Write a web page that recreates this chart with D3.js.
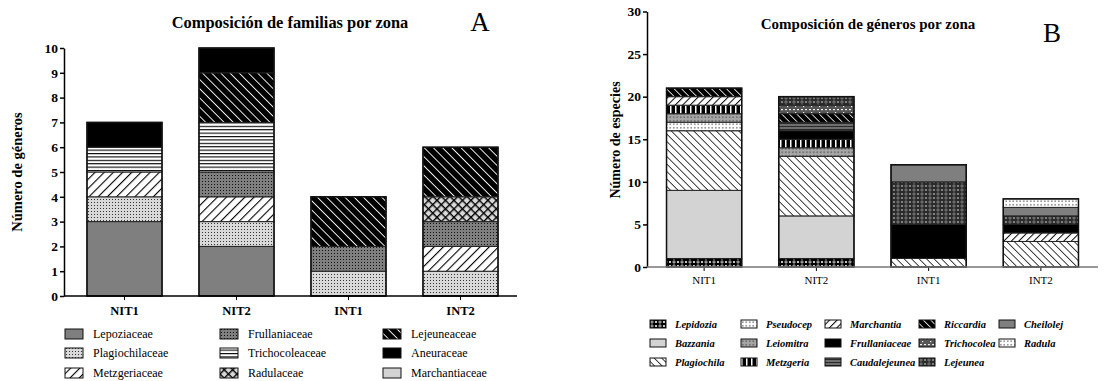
<!DOCTYPE html>
<html>
<head>
<meta charset="utf-8">
<script src="https://cdn.jsdelivr.net/npm/d3@7"></script>
<style>
  body { margin: 0; background: #fff; }
  svg, svg text { font-family: "Liberation Serif", "DejaVu Serif", serif !important; }
</style>
</head>
<body>
<div id="chart"></div>
<script>
// --- datos ---
const zonas = ["NIT1", "NIT2", "INT1", "INT2"];

// Panel A: familias (número de géneros por zona)
const familias = ["Lepoziaceae", "Plagiochilaceae", "Metzgeriaceae", "Frullaniaceae", "Trichocoleaceae",
  "Radulaceae", "Lejeuneaceae", "Aneuraceae", "Marchantiaceae"];
const lepoziaceae     = [3, 2, 0, 0];
const plagiochilaceae = [1, 1, 1, 1];
const metzgeriaceae   = [1, 1, 0, 1];
const frullaniaceaeA  = [0, 1, 1, 1];
const trichocoleaceae = [1, 2, 0, 0];
const radulaceae      = [0, 0, 0, 1];
const lejeuneaceae    = [0, 2, 2, 2];
const aneuraceae      = [1, 1, 0, 0];
const marchantiaceae  = [0, 0, 0, 0];
const valoresA = [lepoziaceae, plagiochilaceae, metzgeriaceae, frullaniaceaeA, trichocoleaceae,
  radulaceae, lejeuneaceae, aneuraceae, marchantiaceae];
const ticksA = [0, 1, 2, 3, 4, 5, 6, 7, 8, 9, 10];

// Panel B: géneros (número de especies por zona)
const generos = ["Lepidozia", "Bazzania", "Plagiochila", "Pseudocep", "Leiomitra", "Metzgeria", "Marchantia",
  "Frullaniaceae", "Caudalejeunea", "Riccardia", "Trichocolea", "Lejeunea", "Cheilolej", "Radula"];
const lepidozia     = [1, 1, 0, 0];
const bazzania      = [8, 5, 0, 0];
const plagiochila   = [7, 7, 1, 3];
const pseudocep     = [1, 0, 0, 0];
const leiomitra     = [1, 1, 0, 0];
const metzgeria     = [1, 1, 0, 0];
const marchantia    = [1, 0, 0, 1];
const frullaniaceae = [0, 1, 4, 1];
const caudalejeunea = [0, 1, 0, 0];
const riccardia     = [1, 1, 0, 0];
const trichocolea   = [0, 1, 0, 0];
const lejeunea      = [0, 1, 5, 1];
const cheilolej     = [0, 0, 2, 1];
const radula        = [0, 0, 0, 1];
const valoresB = [lepidozia, bazzania, plagiochila, pseudocep, leiomitra, metzgeria, marchantia,
  frullaniaceae, caudalejeunea, riccardia, trichocolea, lejeunea, cheilolej, radula];
const ticksB = [0, 5, 10, 15, 20, 25, 30];

const width = 1107, height = 381;
const serif = "'Liberation Serif', 'DejaVu Serif', serif";

const svg = d3.select("#chart").append("svg")
  .attr("width", width)
  .attr("height", height)
  .style("font-family", serif);

const defs = svg.append("defs");

// --- patrones de relleno ---
function base(id, w, h, bg, transform) {
  const p = defs.append("pattern")
    .attr("id", id)
    .attr("patternUnits", "userSpaceOnUse")
    .attr("width", w)
    .attr("height", h);
  if (transform) p.attr("patternTransform", transform);
  p.append("rect").attr("width", w).attr("height", h).attr("fill", bg);
  return p;
}
function hatch(id, bg, fg, gap, sw, angle) {
  const p = base(id, gap, gap, bg, `rotate(${angle})`);
  p.append("line").attr("x1", 0).attr("y1", 0).attr("x2", 0).attr("y2", gap)
    .attr("stroke", fg).attr("stroke-width", sw * 2);
}
function dots(id, bg, fg, gap, r) {
  const p = base(id, gap, gap, bg);
  p.append("rect").attr("x", gap / 2 - r).attr("y", gap / 2 - r).attr("width", r * 2).attr("height", r * 2).attr("fill", fg);
}
function hlines(id, bg, fg, gap, sw) {
  const p = base(id, gap, gap, bg);
  p.append("rect").attr("x", 0).attr("y", 0).attr("width", gap).attr("height", sw).attr("fill", fg);
}
function vlines(id, bg, fg, gap, sw) {
  const p = base(id, gap, gap, bg);
  p.append("rect").attr("x", 0).attr("y", 0).attr("width", sw).attr("height", gap).attr("fill", fg);
}
function cross(id, bg, fg, gap, sw) {
  const p = base(id, gap, gap, bg, "rotate(45)");
  p.append("rect").attr("x", 0).attr("y", 0).attr("width", sw).attr("height", gap).attr("fill", fg);
  p.append("rect").attr("x", 0).attr("y", 0).attr("width", gap).attr("height", sw).attr("fill", fg);
}
function xo(id, bg, fg, gap) {
  const p = base(id, gap * 2, gap, bg);
  p.append("circle").attr("cx", gap / 2).attr("cy", gap / 2).attr("r", gap * 0.28)
    .attr("fill", "none").attr("stroke", fg).attr("stroke-width", 0.9);
  p.append("path").attr("d", `M${gap + 1},1L${gap * 2 - 1},${gap - 1}M${gap * 2 - 1},1L${gap + 1},${gap - 1}`)
    .attr("stroke", fg).attr("stroke-width", 0.9);
}
function dashes(id, bg, fg) {
  const p = base(id, 8, 6, bg);
  p.append("rect").attr("x", 1).attr("y", 1).attr("width", 2).attr("height", 1.2).attr("fill", fg);
  p.append("rect").attr("x", 5).attr("y", 1).attr("width", 2).attr("height", 1.2).attr("fill", fg);
  p.append("rect").attr("x", 3).attr("y", 4).attr("width", 1.2).attr("height", 1.2).attr("fill", fg);
}

dots("a-plag", "#d9d9d9", "#333", 3, 0.5);
hatch("a-metz", "#fff", "#000", 6.5, 1.1, 45);
dots("a-frul", "#7f7f7f", "#111", 3, 0.5);
hlines("a-tric", "#fff", "#000", 3.4, 1.1);
cross("a-radu", "#d9d9d9", "#000", 6, 1.4);
hatch("a-leje", "#000", "#fff", 6.5, 0.9, -45);

xo("b-lepi", "#000", "#ddd", 4);
hatch("b-plag", "#fff", "#000", 5.3, 0.75, -45);
dots("b-pseu", "#fff", "#000", 3.5, 0.55);
dots("b-leio", "#a6a6a6", "#222", 3.5, 0.55);
vlines("b-metz", "#000", "#fff", 5, 1.5);
hatch("b-marc", "#fff", "#000", 5.3, 1, 45);
hlines("b-caud", "#6e6e6e", "#2a2a2a", 3, 1);
hatch("b-ricc", "#000", "#fff", 5.3, 0.8, -45);
dashes("b-tric", "#555", "#eee");
xo("b-leje", "#2b2b2b", "#8a8a8a", 4);
dots("b-radu", "#fff", "#000", 3.5, 0.55);

const fillA = {
  Lepoziaceae: "#7f7f7f", Plagiochilaceae: "url(#a-plag)", Metzgeriaceae: "url(#a-metz)",
  Frullaniaceae: "url(#a-frul)", Trichocoleaceae: "url(#a-tric)", Radulaceae: "url(#a-radu)",
  Lejeuneaceae: "url(#a-leje)", Aneuraceae: "#000", Marchantiaceae: "#d3d3d3"
};
const fillB = {
  Lepidozia: "url(#b-lepi)", Bazzania: "#d3d3d3", Plagiochila: "url(#b-plag)", Pseudocep: "url(#b-pseu)",
  Leiomitra: "url(#b-leio)", Metzgeria: "url(#b-metz)", Marchantia: "url(#b-marc)", Frullaniaceae: "#000",
  Caudalejeunea: "url(#b-caud)", Riccardia: "url(#b-ricc)", Trichocolea: "url(#b-tric)",
  Lejeunea: "url(#b-leje)", Cheilolej: "#7f7f7f", Radula: "url(#b-radu)"
};

function rowsFrom(names, values) {
  return zonas.map((z, i) => {
    const r = { zona: z };
    names.forEach((n, j) => r[n] = values[j][i]);
    return r;
  });
}

function drawPanel(cfg) {
  const g = svg.append("g");
  const x = d3.scaleBand().domain(zonas).range(cfg.xRange).paddingInner(0.33).paddingOuter(0.165);
  const y = d3.scaleLinear().domain(cfg.yDomain).range(cfg.yRange);

  const series = d3.stack().keys(cfg.names)(rowsFrom(cfg.names, cfg.values));

  g.selectAll("g.serie")
    .data(series)
    .enter().append("g")
    .attr("class", "serie")
    .attr("fill", d => cfg.fill[d.key])
    .selectAll("rect")
    .data(d => d.filter(s => s[1] > s[0]))
    .enter().append("rect")
    .attr("x", d => x(d.data.zona))
    .attr("y", d => y(d[1]))
    .attr("width", x.bandwidth())
    .attr("height", d => y(d[0]) - y(d[1]))
    .attr("stroke", "#222")
    .attr("stroke-width", 1);

  // contorno de cada barra
  const totals = zonas.map((z, i) => ({ zona: z, total: d3.sum(cfg.values, v => v[i]) }));
  g.selectAll("rect.outline")
    .data(totals)
    .enter().append("rect")
    .attr("class", "outline")
    .attr("x", d => x(d.zona))
    .attr("y", d => y(d.total))
    .attr("width", x.bandwidth())
    .attr("height", d => y(0) - y(d.total))
    .attr("fill", "none")
    .attr("stroke", "#111")
    .attr("stroke-width", 1.5);

  // eje Y
  const yAxis = g.append("g")
    .attr("transform", `translate(${cfg.axisX},0)`)
    .call(d3.axisLeft(y).tickValues(cfg.ticks).tickSize(4).tickSizeOuter(0).tickPadding(2));
  yAxis.attr("font-family", null);
  yAxis.selectAll("text").attr("font-size", 13.5).attr("font-weight", "bold").attr("fill", "#000");
  yAxis.selectAll("line, path").attr("stroke", "#000").attr("stroke-width", 1.5);

  // eje X
  const xAxis = g.append("g")
    .attr("transform", `translate(0,${y(0)})`)
    .call(d3.axisBottom(x).tickSize(4).tickPadding(cfg.xPad));
  xAxis.attr("font-family", null);
  xAxis.select(".domain").remove();
  xAxis.selectAll("text").attr("font-size", cfg.xFont).attr("font-weight", cfg.xWeight).attr("fill", "#000");
  xAxis.selectAll("line").attr("stroke", "#000").attr("stroke-width", 1);
  g.append("line")
    .attr("x1", cfg.axisX).attr("x2", cfg.xEnd)
    .attr("y1", y(0)).attr("y2", y(0))
    .attr("stroke", cfg.xColor).attr("stroke-width", 1.5);

  // títulos
  g.append("text")
    .attr("x", cfg.titleX).attr("y", cfg.titleY)
    .attr("text-anchor", "middle")
    .attr("font-size", cfg.titleSize).attr("font-weight", "bold")
    .text(cfg.title);
  g.append("text")
    .attr("x", cfg.letterX).attr("y", cfg.letterY)
    .attr("text-anchor", "middle")
    .attr("font-size", 27)
    .text(cfg.letter);
  g.append("text")
    .attr("transform", `translate(${cfg.ylabX},${cfg.ylabY}) rotate(-90)`)
    .attr("text-anchor", "middle")
    .attr("font-size", cfg.ylabSize).attr("font-weight", "bold")
    .text(cfg.ylab);

  // leyenda
  const leg = g.selectAll("g.leg")
    .data(cfg.names)
    .enter().append("g")
    .attr("class", "leg")
    .attr("transform", (d, i) => `translate(${cfg.legCols[Math.floor(i / 3)]},${cfg.legRows[i % 3]})`);
  leg.append("rect")
    .attr("x", 0).attr("y", -cfg.swH / 2)
    .attr("width", cfg.swW).attr("height", cfg.swH)
    .attr("fill", d => cfg.fill[d])
    .attr("stroke", "#111").attr("stroke-width", 1);
  leg.append("text")
    .attr("x", cfg.swW + cfg.legGap).attr("y", 0)
    .attr("dy", "0.35em")
    .attr("font-size", cfg.legFont)
    .attr("font-weight", cfg.legWeight)
    .attr("font-style", cfg.legStyle)
    .text(d => d);
}

drawPanel({
  names: familias, values: valoresA, fill: fillA, ticks: ticksA,
  xRange: [68.5, 516.5], yDomain: [0, 10], yRange: [296, 48],
  axisX: 64, xEnd: 517, xColor: "#000", xPad: 6, xFont: 12.5, xWeight: "bold",
  title: "Composición de familias por zona", titleX: 290, titleY: 28, titleSize: 16.4,
  letter: "A", letterX: 480, letterY: 31,
  ylab: "Número de géneros", ylabX: 22, ylabY: 172, ylabSize: 14.5,
  legCols: [65, 220, 383], legRows: [334, 353, 373], swW: 18, swH: 10, legGap: 10,
  legFont: 12, legWeight: "normal", legStyle: "normal"
});

drawPanel({
  names: generos, values: valoresB, fill: fillB, ticks: ticksB,
  xRange: [648, 1097], yDomain: [0, 30], yRange: [267, 11.5],
  axisX: 647, xEnd: 1098, xColor: "#777", xPad: 5, xFont: 11, xWeight: "normal",
  title: "Composición de géneros por zona", titleX: 868, titleY: 29, titleSize: 15,
  letter: "B", letterX: 1052, letterY: 42,
  ylab: "Número de especies", ylabX: 620, ylabY: 140, ylabSize: 14,
  legCols: [650, 741, 825, 919, 999], legRows: [324, 343, 362], swW: 16, swH: 8, legGap: 9,
  legFont: 10.5, legWeight: "bold", legStyle: "italic"
});
</script>
</body>
</html>
